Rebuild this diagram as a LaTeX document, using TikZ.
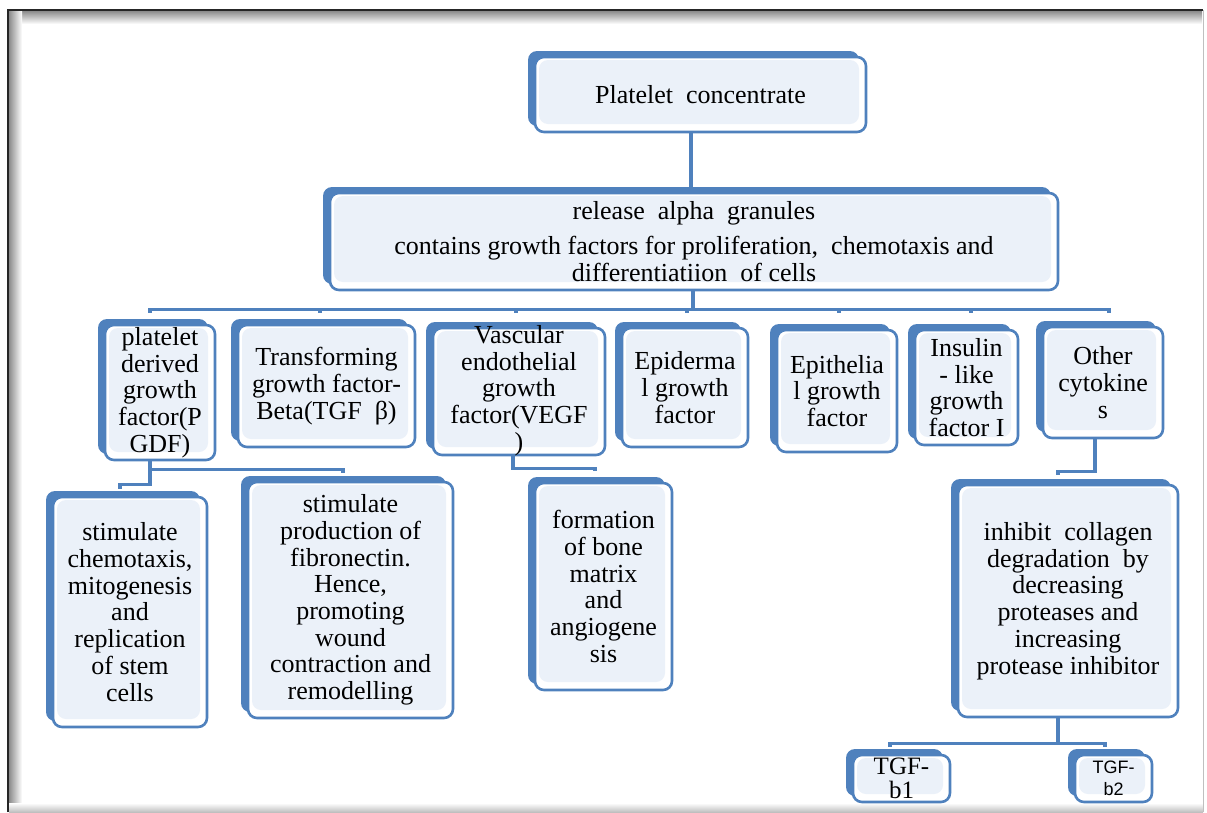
\documentclass[tikz,border=0pt]{standalone}
\usepackage{fontspec}
\setmainfont{Liberation Serif}
\newfontfamily\sansf{Liberation Sans}
\usetikzlibrary{shadows,backgrounds,calc}
\definecolor{boxblue}{HTML}{4F81BD}
\definecolor{boxfill}{HTML}{EBF1F9}
\tikzset{
  gbox/.style={draw=boxblue, line width=2.6pt, fill=white, rounded corners=9pt, inner sep=0pt,
    general shadow={fill=boxblue, shadow xshift=-7pt, shadow yshift=6pt},
    path picture={\fill[boxfill] ([xshift=4pt,yshift=-3pt]path picture bounding box.north west) rectangle ([xshift=-7pt,yshift=8pt]path picture bounding box.south east);}},
  lbl/.style={align=center, inner sep=0pt, font=\fontsize{26}{26.7}\selectfont},
  conn/.style={draw=boxblue, line width=3.4pt},
}
\begin{document}
\begin{tikzpicture}[x=1pt,y=-1pt]
\useasboundingbox (0,0) rectangle (1207,812);
% frame
\shade[top color=black!45, bottom color=white] (9,11) rectangle (1202,24);
\shade[left color=black!45, right color=white] (9,11) rectangle (22,812);
\shade[top color=white, bottom color=black!25] (9,803) rectangle (1203,812);
\draw[black!85, line width=2.5pt] (8,812) -- (8,10) -- (1203,10);
\draw[black!25, line width=1pt] (1203,10) -- (1203,812);

% boxes
\node[gbox, minimum width=331, minimum height=75] (top) at (700.5,94.5) {};
\node[lbl] (top-t) at (top.center) {Platelet\ \ concentrate};

\node[gbox, minimum width=728, minimum height=97] (rel) at (694,241.5) {};
\node[lbl] (rel-t) at (rel.center) {release\ \ alpha\ \ granules\\[8pt]contains growth factors for proliferation,\ \ chemotaxis and\\differentiatiion\ \ of cells};

\node[gbox, minimum width=110, minimum height=135] (pdgf) at (160,392.5) {};
\node[lbl] (pdgf-t) at (pdgf.center) {platelet\\derived\\growth\\factor(P\\GDF)};

\node[gbox, minimum width=177, minimum height=122] (tgfb) at (326.5,386) {};
\node[lbl] (tgfb-t) at (tgfb.center) {Transforming\\growth factor-\\Beta(TGF\ \ β)};

\node[gbox, minimum width=172, minimum height=127] (vegf) at (519,391.5) {};
\node[lbl] (vegf-t) at ([yshift=1pt]vegf.center) {Vascular\\endothelial\\growth\\factor(VEGF\\)};

\node[gbox, minimum width=126, minimum height=119] (epid) at (685,387.5) {};
\node[lbl] (epid-t) at (epid.center) {Epiderma\\l growth\\factor};

\node[gbox, minimum width=120, minimum height=122] (epit) at (837,391) {};
\node[lbl] (epit-t) at (epit.center) {Epithelia\\l growth\\factor};

\node[gbox, minimum width=103, minimum height=115] (igf) at (966.5,387.5) {};
\node[lbl] (igf-t) at (igf.center) {Insulin\\- like\\growth\\factor I};

\node[gbox, minimum width=120, minimum height=111] (oth) at (1103,382.5) {};
\node[lbl] (oth-t) at (oth.center) {Other\\cytokine\\s};

\node[gbox, minimum width=154, minimum height=230] (c1) at (130,612) {};
\node[lbl] (c1-t) at (c1.center) {stimulate\\chemotaxis,\\mitogenesis\\and\\replication\\of stem\\cells};

\node[gbox, minimum width=205, minimum height=236] (c2) at (350.5,600) {};
\node[lbl] (c2-t) at (c2.center) {stimulate\\production of\\fibronectin.\\Hence,\\promoting\\wound\\contraction and\\remodelling};

\node[gbox, minimum width=137, minimum height=207] (form) at (603.5,586.5) {};
\node[lbl] (form-t) at (form.center) {formation\\of bone\\matrix\\and\\angiogene\\sis};

\node[gbox, minimum width=220, minimum height=232] (inh) at (1068,601) {};
\node[lbl] (inh-t) at (inh.center) {inhibit\ \ collagen\\degradation\ \ by\\decreasing\\proteases and\\increasing\\protease inhibitor};

\node[gbox, minimum width=97, minimum height=47] (b1) at (901.5,778.5) {};
\node[lbl, font=\fontsize{25}{24}\selectfont] (b1-t) at (b1.center) {TGF-\\b1};

\node[gbox, minimum width=77, minimum height=47] (b2) at (1113.5,778.5) {};
\node[lbl, font=\sansf\fontsize{18}{22}\selectfont] (b2-t) at (b2.center) {TGF-\\b2};

% connectors
\begin{scope}[on background layer]
\draw[conn] ([xshift=-9.5pt]top.south) -- ([xshift=-9.5pt]top.south |- rel.north);
\coordinate (bus) at ($(rel.south)+(-1,18)$);
\draw[conn] ([xshift=-1pt]rel.south) -- (bus);
\draw[conn] (bus) -| ($(pdgf.north)+(-10,-11)$);
\draw[conn] (bus) -| ($(tgfb.north)+(-6.5,-11)$);
\draw[conn] (bus) -| ($(vegf.north)+(-3,-14)$);
\draw[conn] (bus) -| ($(epid.north)+(2,-14)$);
\draw[conn] (bus) -| ($(epit.north)+(2,-16)$);
\draw[conn] (bus) -| ($(igf.north)+(4.5,-16)$);
\draw[conn] (bus) -| ($(oth.north)+(6,-13)$);

\coordinate (pj) at ($(pdgf.south)+(-10,0)$);
\draw[conn] (pj) -- ++(0,23) -| ($(c1.north)+(-10,-7)$);
\draw[conn] ($(pj)+(0,8)$) -| ($(c2.north)+(-7.5,-8)$);

\draw[conn] ($(vegf.south)+(-6,0)$) -- ++(0,12) -| ($(form.north)+(-8.5,-11)$);

\draw[conn] ($(oth.south)+(-8,0)$) -- ++(0,32) -| ($(inh.north)+(-10,-9)$);

\coordinate (ij) at ($(inh.south)+(-10,25)$);
\draw[conn] ($(inh.south)+(-10,0)$) -- (ij);
\draw[conn] (ij) -| ($(b1.north)+(-11.5,-7)$);
\draw[conn] (ij) -| ($(b2.north)+(-8.5,-7)$);
\end{scope}
\end{tikzpicture}
\end{document}
